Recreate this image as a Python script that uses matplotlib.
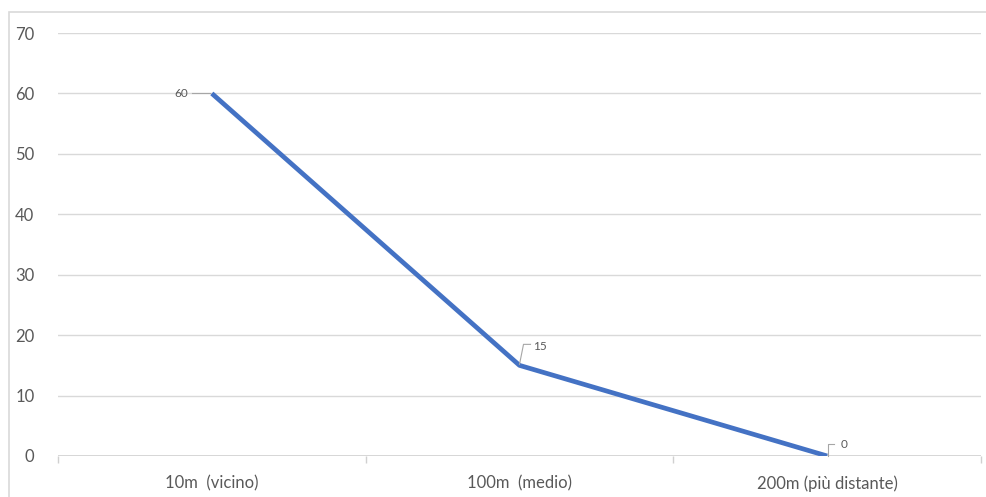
import matplotlib
matplotlib.use("Agg")
import matplotlib.pyplot as plt
from matplotlib.lines import Line2D
from matplotlib.patches import Rectangle
from matplotlib.transforms import IdentityTransform

plt.rcParams['font.family'] = ['Lato', 'DejaVu Sans']

categories = ['10m  (vicino)', '100m  (medio)', '200m (più distante)']
values = [60, 15, 0]
y_ticks = [0, 10, 20, 30, 40, 50, 60, 70]

W, H = 987, 497
fig = plt.figure(figsize=(W / 100, H / 100), dpi=100)
fig.patch.set_facecolor('white')

# chart border (cropped at right / bottom)
fig.add_artist(Rectangle((9 / W, -0.1), 1.2, (H - 12) / H + 0.1, transform=fig.transFigure,
                         fill=False, edgecolor='#D9D9D9', linewidth=1.2))

left, right = 58 / W, 981 / W
bottom, top = (H - 456) / H, (H - 33) / H
ax = fig.add_axes([left, bottom, right - left, top - bottom])

x = list(range(len(categories)))
ax.set_xlim(-0.5, len(categories) - 0.5)
ax.set_ylim(0, 70)

for yv in y_ticks[1:]:
    ax.axhline(yv, color='#D9D9D9', linewidth=1, zorder=1)
ax.axhline(0, color='#D0D0D0', linewidth=1.2, zorder=1)

ax.plot(x, values, color='#4472C4', linewidth=3.4, solid_capstyle='butt', zorder=3)

for s in ax.spines.values():
    s.set_visible(False)
ax.set_yticks(y_ticks)
ax.set_yticklabels([str(v) for v in y_ticks], fontsize=12, color='#595959')
ax.tick_params(axis='y', length=0, pad=17)
ax.set_xticks(x)
ax.set_xticklabels(categories, fontsize=12, color='#595959')
ax.tick_params(axis='x', length=0, pad=14)
# category separators on the baseline
for b in [-0.5, 0.5, 1.5, 2.5]:
    ax.plot([b], [0], marker=3, markersize=5, color='#D0D0D0', clip_on=False, zorder=1)

# data labels with leader lines (pixel offsets, y up)
leaders = [
    ([(-20, 0), (-2, 0)], (-24, 0), 'right'),
    ([(0, 1), (4, 21), (11, 21)], (14, 19), 'left'),
    ([(1, 0), (1, 12), (7, 12)], (13, 11), 'left'),
]
fig.canvas.draw()
for xi, v, (path, (tx, ty), ha) in zip(x, values, leaders):
    px, py = ax.transData.transform((xi, v))
    xs = [px + dx for dx, dy in path]
    ys = [py + dy for dx, dy in path]
    fig.add_artist(Line2D(xs, ys, transform=IdentityTransform(), color='#A6A6A6', linewidth=0.8))
    fig.text(px + tx, py + ty, str(v), transform=IdentityTransform(), ha=ha, va='center',
             fontsize=8.5, color='#595959')

plt.savefig('out.png', dpi=100)
